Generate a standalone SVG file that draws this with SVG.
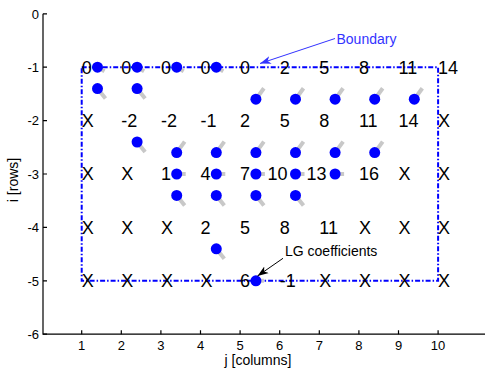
<svg xmlns="http://www.w3.org/2000/svg" width="485" height="372" viewBox="0 0 485 372">
<style>
text{font-family:"Liberation Sans",Arial,sans-serif;fill:#000}
.ty{font-size:13px;text-anchor:end}
.tx{font-size:13px;text-anchor:middle}
.al{font-size:14px;text-anchor:middle}
.v{font-size:18px}
.ax{stroke:#000;stroke-width:1.2;fill:none}
.tail{stroke:#c8c8c8;stroke-width:4;stroke-linecap:butt}
.dot{fill:#0000ff}
.bnd{fill:none;stroke:#0000ff;stroke-width:2;stroke-dasharray:5 2 1.5 2}
</style>
<defs>
<marker id="ahB" markerWidth="12" markerHeight="10" refX="11" refY="5" orient="auto" markerUnits="userSpaceOnUse">
<path d="M0,1 L11,5 L0,9 L3,5 Z" fill="#3333ff"/>
</marker>
<marker id="ahK" markerWidth="12" markerHeight="10" refX="11" refY="5" orient="auto" markerUnits="userSpaceOnUse">
<path d="M0,1 L11,5 L0,9 L3,5 Z" fill="#000"/>
</marker>
</defs>
<rect width="485" height="372" fill="#fff"/>
<g id="axes">
<path class="ax" d="M43,13.8 V334.2 H485"/>
<path class="ax" d="M43,13.8h4M43,67.2h4M43,120.6h4M43,174h4M43,227.4h4M43,280.8h4M43,334.2h4"/>
<path class="ax" d="M81.7,334.2v-4M121.3,334.2v-4M160.9,334.2v-4M200.5,334.2v-4M240.1,334.2v-4M279.7,334.2v-4M319.3,334.2v-4M358.9,334.2v-4M398.5,334.2v-4M438.1,334.2v-4"/>
<text class="ty" x="39" y="18.5">0</text>
<text class="ty" x="39" y="71.9">-1</text>
<text class="ty" x="39" y="125.3">-2</text>
<text class="ty" x="39" y="178.7">-3</text>
<text class="ty" x="39" y="232.1">-4</text>
<text class="ty" x="39" y="285.5">-5</text>
<text class="ty" x="39" y="338.9">-6</text>
<text class="tx" x="81.7" y="350">1</text>
<text class="tx" x="121.3" y="350">2</text>
<text class="tx" x="160.9" y="350">3</text>
<text class="tx" x="200.5" y="350">4</text>
<text class="tx" x="240.1" y="350">5</text>
<text class="tx" x="279.7" y="350">6</text>
<text class="tx" x="319.3" y="350">7</text>
<text class="tx" x="358.9" y="350">8</text>
<text class="tx" x="398.5" y="350">9</text>
<text class="tx" x="438.1" y="350">10</text>
<text class="al" x="258" y="364.5">j [columns]</text>
<text class="al" transform="translate(18,180) rotate(-90)">i [rows]</text>
</g>
<g id="boundary">
<rect class="bnd" x="81.7" y="67.2" width="356.4" height="213.6"/>
</g>
<g id="values">
<text class="v" x="81.7" y="73.5">0</text><text class="v" x="121.3" y="73.5">0</text><text class="v" x="160.9" y="73.5">0</text><text class="v" x="200.5" y="73.5">0</text><text class="v" x="240.1" y="73.5">0</text><text class="v" x="279.7" y="73.5">2</text><text class="v" x="319.3" y="73.5">5</text><text class="v" x="358.9" y="73.5">8</text><text class="v" x="398.5" y="73.5">11</text><text class="v" x="438.1" y="73.5">14</text>
<text class="v" x="81.7" y="126.9">X</text><text class="v" x="121.3" y="126.9">-2</text><text class="v" x="160.9" y="126.9">-2</text><text class="v" x="200.5" y="126.9">-1</text><text class="v" x="240.1" y="126.9">2</text><text class="v" x="279.7" y="126.9">5</text><text class="v" x="319.3" y="126.9">8</text><text class="v" x="358.9" y="126.9">11</text><text class="v" x="398.5" y="126.9">14</text><text class="v" x="438.1" y="126.9">X</text>
<text class="v" x="81.7" y="180.3">X</text><text class="v" x="121.3" y="180.3">X</text><text class="v" x="160.9" y="180.3">1</text><text class="v" x="200.5" y="180.3">4</text><text class="v" x="240.1" y="180.3">7</text><text class="v" x="267.5" y="180.3">10</text><text class="v" x="306.5" y="180.3">13</text><text class="v" x="358.9" y="180.3">16</text><text class="v" x="398.5" y="180.3">X</text><text class="v" x="438.1" y="180.3">X</text>
<text class="v" x="81.7" y="233.7">X</text><text class="v" x="121.3" y="233.7">X</text><text class="v" x="160.9" y="233.7">X</text><text class="v" x="200.5" y="233.7">2</text><text class="v" x="240.1" y="233.7">5</text><text class="v" x="279.7" y="233.7">8</text><text class="v" x="319.3" y="233.7">11</text><text class="v" x="358.9" y="233.7">X</text><text class="v" x="398.5" y="233.7">X</text><text class="v" x="438.1" y="233.7">X</text>
<text class="v" x="81.7" y="287.1">X</text><text class="v" x="121.3" y="287.1">X</text><text class="v" x="160.9" y="287.1">X</text><text class="v" x="200.5" y="287.1">X</text><text class="v" x="240.1" y="287.1">6</text><text class="v" x="279.7" y="287.1">-1</text><text class="v" x="319.3" y="287.1">X</text><text class="v" x="358.9" y="287.1">X</text><text class="v" x="398.5" y="287.1">X</text><text class="v" x="438.1" y="287.1">X</text>
</g>
<g id="coefficients">
<path class="tail" d="M97.5,67.2l7,4M137.1,67.2l7,4M176.7,67.2l7,4M216.3,67.2l7,4
M97.5,88.6l8,10M137.1,88.6l8,10
M255.9,99.2l8,-11M295.5,99.2l8,-11M335.1,99.2l8,-11M374.7,99.2l8,-11M414.3,99.2l8,-11
M137.1,142l8,10
M176.7,152.6l8,-11M216.3,152.6l8,-11M255.9,152.6l8,-11M295.5,152.6l8,-11M335.1,152.6l8,-11M374.7,152.6l8,-11
M176.7,174h9M216.3,174h9M255.9,174h9M295.5,174h9M335.1,174h9
M176.7,195.4l8,10M216.3,195.4l8,10M255.9,195.4l8,10M295.5,195.4l8,10
M216.3,248.8l8,10
M255.9,280.8h8"/>
<g class="dot">
<circle cx="97.5" cy="67.2" r="5.5"/><circle cx="137.1" cy="67.2" r="5.5"/><circle cx="176.7" cy="67.2" r="5.5"/><circle cx="216.3" cy="67.2" r="5.5"/>
<circle cx="97.5" cy="88.6" r="5.5"/><circle cx="137.1" cy="88.6" r="5.5"/>
<circle cx="255.9" cy="99.2" r="5.5"/><circle cx="295.5" cy="99.2" r="5.5"/><circle cx="335.1" cy="99.2" r="5.5"/><circle cx="374.7" cy="99.2" r="5.5"/><circle cx="414.3" cy="99.2" r="5.5"/>
<circle cx="137.1" cy="142" r="5.5"/>
<circle cx="176.7" cy="152.6" r="5.5"/><circle cx="216.3" cy="152.6" r="5.5"/><circle cx="255.9" cy="152.6" r="5.5"/><circle cx="295.5" cy="152.6" r="5.5"/><circle cx="335.1" cy="152.6" r="5.5"/><circle cx="374.7" cy="152.6" r="5.5"/>
<circle cx="176.7" cy="174" r="5.5"/><circle cx="216.3" cy="174" r="5.5"/><circle cx="255.9" cy="174" r="5.5"/><circle cx="295.5" cy="174" r="5.5"/><circle cx="335.1" cy="174" r="5.5"/>
<circle cx="176.7" cy="195.4" r="5.5"/><circle cx="216.3" cy="195.4" r="5.5"/><circle cx="255.9" cy="195.4" r="5.5"/><circle cx="295.5" cy="195.4" r="5.5"/>
<circle cx="216.3" cy="248.8" r="5.5"/>
<circle cx="255.9" cy="280.8" r="5.5"/>
</g>
</g>
<g id="connectors">
<line x1="335" y1="38.5" x2="260" y2="63.5" stroke="#3333ff" stroke-width="1" marker-end="url(#ahB)"/>
<line x1="283" y1="258.3" x2="257.5" y2="276" stroke="#000" stroke-width="1" marker-end="url(#ahK)"/>
</g>
<g id="label-boundary"><text x="336.5" y="44" style="font-size:14px;fill:#3333ff">Boundary</text></g>
<g id="label-lg"><text x="285" y="256" style="font-size:14px">LG coefficients</text></g>
</svg>
